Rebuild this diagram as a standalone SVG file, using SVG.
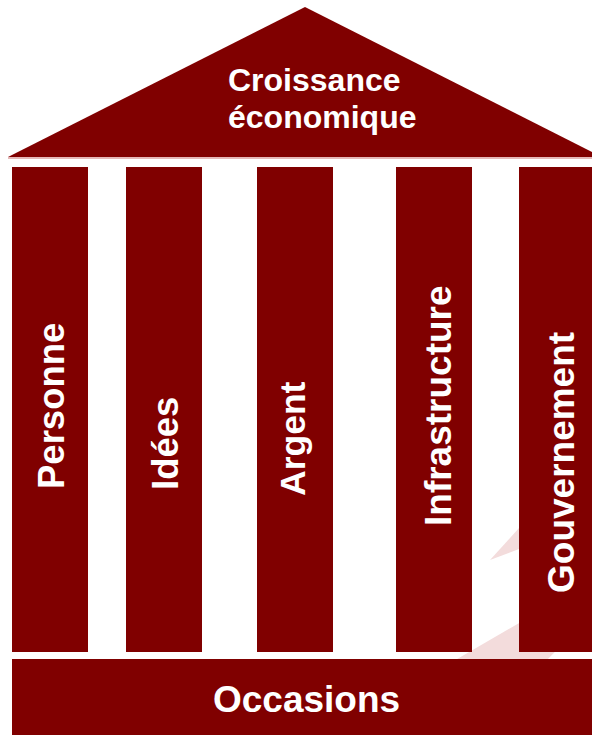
<svg xmlns="http://www.w3.org/2000/svg" width="592" height="735" viewBox="0 0 592 735">
<style>
.m{fill:#800000}
.t{fill:#ffffff;font-family:"Liberation Sans",Arial,sans-serif;font-weight:bold}
.wm{fill:#f3dcdc}
</style>
<rect width="592" height="735" fill="#ffffff"/>
<g id="watermark">
<polygon class="wm" points="490,560 519,528 519,549"/>
<polygon class="wm" points="452,662 600,576 600,606 545,662"/>
</g>
<g id="roof">
<polygon class="m" points="8,157 305,7 602,157"/>
<line x1="8" y1="158" x2="592" y2="158" stroke="#dca0a0" stroke-width="1.5"/>
<text class="t" font-size="32" x="228" y="91">Croissance</text>
<text class="t" font-size="32" x="228" y="128">économique</text>
</g>
<g id="pillar-personne">
<rect class="m" x="12" y="167" width="76" height="485"/>
<text class="t" font-size="36.5" transform="translate(64,489) rotate(-90)">Personne</text>
</g>
<g id="pillar-idees">
<rect class="m" x="126" y="167" width="76" height="485"/>
<text class="t" font-size="36.5" transform="translate(178,490) rotate(-90)">Idées</text>
</g>
<g id="pillar-argent">
<rect class="m" x="257" y="167" width="76" height="485"/>
<text class="t" font-size="35.5" transform="translate(305,496) rotate(-90)">Argent</text>
</g>
<g id="pillar-infrastructure">
<rect class="m" x="396" y="167" width="76" height="485"/>
<text class="t" font-size="37" transform="translate(451,526) rotate(-90)">Infrastructure</text>
</g>
<g id="pillar-gouvernement">
<rect class="m" x="519" y="167" width="76" height="485"/>
<text class="t" font-size="37" transform="translate(574,593) rotate(-90)">Gouvernement</text>
</g>
<g id="base">
<rect class="m" x="12" y="659" width="580" height="76"/>
<text class="t" font-size="37" x="213" y="712">Occasions</text>
</g>
<g id="connectors"></g>
</svg>
